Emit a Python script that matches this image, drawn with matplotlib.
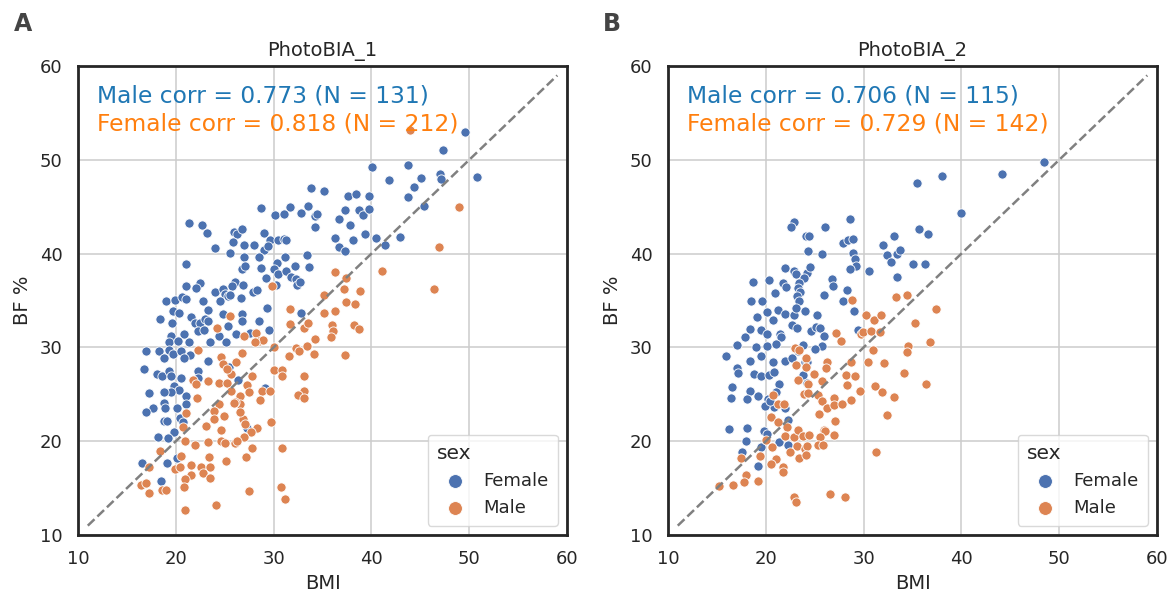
import numpy as np
import matplotlib
matplotlib.use("Agg")
import matplotlib.pyplot as plt
import seaborn as sns

# PhotoBIA_1 : (BMI, BF %)
p1_female = [
    (33.8, 47.0), (28.7, 44.9), (31.7, 45.0), (30.1, 44.1), (31.1, 44.2), (32.8, 44.3),
    (33.5, 45.1), (34.2, 44.0), (34.4, 44.2), (34.2, 42.8), (21.3, 43.3), (22.7, 43.1),
    (23.2, 42.2), (24.0, 40.6), (25.9, 42.3), (26.3, 42.1), (26.8, 42.6), (25.8, 41.2),
    (27.0, 40.9), (28.0, 40.9), (29.0, 42.2), (29.6, 41.5), (30.4, 41.5), (31.1, 41.6),
    (31.3, 41.5), (29.0, 40.4), (29.4, 40.8), (25.5, 40.1), (27.0, 39.6), (28.5, 39.6),
    (33.4, 39.9), (33.6, 38.6), (31.2, 39.6), (30.3, 39.0), (21.0, 38.9), (26.8, 38.4),
    (27.1, 38.7), (28.7, 38.5), (30.0, 38.4), (30.4, 37.8), (31.3, 38.2), (32.2, 38.7),
    (29.2, 37.4), (31.8, 37.5), (32.3, 37.3), (32.4, 36.7), (32.7, 37.0), (30.2, 36.7),
    (21.0, 36.6), (22.5, 36.9), (22.1, 36.3), (26.1, 37.0), (25.7, 36.5), (26.9, 36.7),
    (24.0, 35.9), (24.8, 36.2), (25.0, 35.7), (25.3, 35.5), (25.5, 35.6), (27.9, 35.9),
    (28.3, 36.1), (19.0, 35.0), (19.9, 35.1), (20.6, 35.4), (21.0, 35.2), (22.8, 34.9),
    (24.5, 34.9), (26.7, 35.3), (29.3, 34.2), (32.8, 33.7), (19.7, 33.9), (20.3, 33.7),
    (23.3, 34.0), (24.8, 33.6), (26.8, 33.6), (18.4, 33.0), (19.6, 32.6), (21.6, 33.2),
    (22.0, 32.6), (22.5, 32.6), (23.0, 33.0), (23.3, 32.8), (25.3, 32.3), (26.8, 32.8),
    (28.5, 32.8), (29.5, 31.9), (22.3, 31.7), (22.9, 31.9), (24.4, 31.2), (26.2, 31.4),
    (27.6, 31.5), (19.5, 31.2), (20.8, 31.4), (19.3, 30.6), (20.2, 30.7), (21.3, 30.6),
    (23.5, 30.6), (25.1, 30.6),
    (16.9, 29.6), (18.3, 29.6), (19.3, 29.7), (19.7, 29.3), (20.5, 29.6), (21.4, 29.2),
    (20.8, 28.9), (18.8, 28.9), (23.3, 28.6), (25.4, 27.9), (26.4, 26.5), (16.7, 27.7),
    (18.1, 27.2), (18.6, 27.0), (19.3, 27.5), (19.5, 27.0), (20.5, 26.7), (19.8, 25.9),
    (20.3, 25.5), (19.5, 25.3), (18.8, 25.2), (17.3, 25.1), (21.0, 24.8), (21.0, 24.0),
    (20.1, 23.5), (18.8, 24.1), (18.9, 23.5), (17.7, 23.5), (17.0, 23.1), (18.8, 22.2),
    (19.1, 22.2), (20.4, 22.5), (20.7, 22.1), (19.8, 21.0), (18.2, 20.5), (19.2, 20.3),
    (16.5, 17.7), (19.1, 17.7), (20.1, 18.2), (18.5, 15.8), (27.3, 21.4), (29.1, 25.7),
    (22.3, 27.5), (22.3, 26.7),
    (49.6, 53.0), (47.3, 51.0), (40.1, 49.2), (43.7, 49.5), (41.8, 47.9), (45.1, 48.1),
    (44.4, 47.1), (43.7, 46.0), (47.0, 48.5), (47.1, 48.0), (50.8, 48.2), (45.4, 45.1),
    (35.2, 46.7), (37.6, 46.1), (38.4, 46.4), (39.7, 46.1), (37.3, 44.7), (38.7, 44.7),
    (39.1, 44.1), (39.7, 44.8), (36.7, 43.7), (37.8, 43.0), (36.3, 41.7), (36.7, 40.7),
    (37.3, 40.3), (38.1, 41.4), (39.3, 42.1), (40.5, 41.7), (41.4, 40.9), (42.9, 41.8),
]
p1_male = [
    (29.8, 36.6), (25.5, 33.3), (24.2, 32.1), (27.0, 31.2), (28.2, 31.5), (28.5, 30.7),
    (28.9, 30.8), (28.1, 30.6), (31.7, 34.1), (31.7, 32.5), (33.1, 32.1), (33.5, 32.6),
    (22.3, 29.7), (24.6, 29.0), (26.8, 29.4), (30.0, 30.0), (32.3, 29.9), (33.4, 30.1),
    (34.1, 29.3), (31.6, 29.1), (32.6, 29.6), (24.8, 28.2), (25.6, 27.2), (26.2, 28.4),
    (25.2, 27.7), (27.8, 26.9), (30.0, 27.6), (30.9, 27.6), (30.9, 27.0), (33.1, 26.9),
    (21.8, 26.5), (23.3, 26.4), (24.4, 26.2), (25.2, 26.2), (27.3, 26.0), (22.1, 26.1),
    (25.6, 25.4), (26.6, 24.8), (26.6, 24.0), (26.1, 24.2), (25.9, 24.1), (27.5, 25.3),
    (28.8, 25.4), (29.6, 25.4), (28.6, 24.4), (33.1, 25.4), (32.5, 24.9), (33.1, 24.6),
    (22.2, 24.6), (24.4, 24.0), (23.9, 23.2), (23.9, 22.4), (24.9, 22.7), (26.9, 22.4),
    (27.1, 21.8), (26.6, 23.1), (21.0, 23.0), (20.7, 21.5), (23.1, 21.6), (24.6, 21.2),
    (28.3, 21.4), (29.7, 22.0), (27.7, 21.0), (27.0, 20.5), (20.9, 20.0), (22.0, 19.6),
    (23.3, 19.9), (24.6, 20.0), (25.0, 19.8), (26.1, 19.8), (26.3, 20.0), (18.4, 19.0),
    (27.8, 19.3), (30.9, 19.3), (20.5, 18.4), (23.4, 18.3), (25.1, 17.9), (27.2, 18.3),
    (17.3, 17.3), (19.9, 17.0), (20.4, 17.3), (21.6, 17.5), (22.6, 17.3), (23.5, 17.3),
    (22.8, 16.6), (21.6, 16.4), (20.9, 16.0), (23.5, 16.1), (16.4, 15.3), (16.9, 15.5),
    (17.3, 14.5), (18.6, 14.8), (19.0, 14.8), (20.8, 15.1), (27.5, 14.7), (30.8, 15.1),
    (31.2, 13.8), (24.1, 13.2), (20.9, 12.7),
    (43.9, 53.2), (49.0, 45.0), (46.9, 40.7), (41.1, 38.1), (46.4, 36.2), (36.3, 38.0),
    (37.4, 37.4), (37.2, 36.2), (38.8, 36.0), (35.2, 35.6), (37.4, 34.8), (38.3, 34.6),
    (35.2, 33.7), (36.3, 33.9), (36.0, 32.4), (36.1, 31.8), (35.9, 31.1), (38.2, 32.4),
    (38.7, 32.0), (34.2, 30.9), (37.3, 29.2),
]

# PhotoBIA_2 : (BMI, BF %)
p2_female = [
    (28.6, 43.7), (22.9, 43.4), (22.6, 42.8), (26.1, 42.8), (24.1, 41.9), (24.4, 41.9),
    (27.9, 41.1), (28.4, 41.4), (28.9, 41.6), (33.1, 41.9), (32.0, 40.9), (32.4, 39.9),
    (32.8, 39.1), (33.4, 40.0), (33.7, 40.4), (24.3, 40.3), (25.7, 40.0), (28.9, 40.1),
    (29.1, 39.4), (29.2, 38.7), (28.6, 38.4), (30.6, 38.2), (33.4, 37.5), (22.0, 38.5),
    (22.9, 38.1), (23.1, 37.8), (24.2, 37.9), (24.5, 38.6), (23.9, 37.4), (18.7, 37.0),
    (20.3, 37.2), (21.8, 36.9), (22.1, 36.4), (23.4, 36.9), (23.3, 36.3), (23.5, 35.9),
    (23.2, 35.5), (23.4, 34.9), (26.8, 37.3), (26.9, 36.6), (28.3, 36.1), (25.9, 35.6),
    (27.9, 35.0), (20.9, 35.8), (18.5, 34.9), (19.6, 34.9), (21.2, 34.0), (20.1, 33.8),
    (22.0, 33.6), (22.9, 33.5), (23.1, 34.2), (24.0, 33.9), (29.0, 33.9), (19.1, 33.2),
    (20.7, 32.9), (22.7, 32.4), (23.2, 32.1), (25.2, 33.5), (18.4, 32.0), (19.5, 31.9),
    (20.1, 31.4), (21.5, 31.4), (21.6, 31.1), (17.9, 31.1), (17.1, 30.3), (19.0, 30.0),
    (20.1, 30.1), (21.0, 30.4), (24.6, 31.7), (25.1, 32.2), (25.5, 32.1), (25.9, 31.2),
    (25.7, 30.2), (29.4, 31.9), (23.8, 30.3), (25.0, 29.8), (15.9, 29.1), (18.4, 28.6),
    (19.5, 29.1), (20.7, 28.4), (22.0, 28.5), (22.7, 28.9), (17.1, 27.8), (17.2, 27.3),
    (18.8, 27.2), (19.5, 27.0), (20.3, 27.1), (20.8, 27.4), (23.3, 29.6), (24.0, 28.4),
    (24.2, 28.4), (23.8, 27.1), (24.2, 26.2), (16.5, 25.8), (18.4, 25.4), (21.4, 26.1),
    (21.0, 25.3), (16.4, 24.6), (18.1, 24.5), (19.2, 24.8), (20.2, 24.5),
    (16.2, 21.3), (18.1, 21.4), (19.8, 21.1), (20.1, 20.8), (18.0, 20.0), (21.3, 19.9),
    (22.3, 19.6), (19.5, 19.4), (17.6, 18.9), (19.2, 17.4), (22.0, 23.5), (20.8, 23.6),
    (22.3, 22.3), (19.9, 23.8), (20.4, 24.3),
    (48.4, 49.8), (44.2, 48.5), (38.0, 48.3), (35.5, 47.5), (40.0, 44.3), (35.7, 42.6),
    (36.6, 42.1), (35.1, 38.9), (36.3, 38.9),
]
p2_male = [
    (28.8, 35.1), (33.3, 35.4), (34.4, 35.6), (30.2, 33.5), (31.1, 32.9), (31.8, 33.5),
    (29.7, 31.4), (29.9, 31.6), (30.8, 31.8), (31.7, 31.6), (27.2, 31.5), (27.7, 30.7),
    (23.0, 29.9), (23.4, 29.7), (24.1, 28.9), (23.1, 28.1), (24.1, 27.9), (26.3, 28.4),
    (26.2, 27.8), (28.7, 28.4), (30.4, 28.4), (32.1, 28.3), (31.0, 29.7), (34.5, 30.1),
    (24.9, 27.2), (28.2, 27.1), (29.1, 27.0), (34.1, 27.3), (23.3, 26.5), (24.3, 26.1),
    (25.7, 26.4), (28.3, 26.0), (31.2, 25.9), (29.6, 25.4), (31.9, 25.3), (33.1, 24.7),
    (23.9, 25.0), (24.3, 25.1), (20.7, 24.9), (27.0, 24.6),
    (21.2, 24.0), (21.9, 24.0), (25.3, 24.9), (25.7, 24.3), (25.4, 22.9), (26.3, 23.5),
    (27.0, 23.9), (27.8, 24.0), (28.7, 24.4), (32.4, 22.8), (27.1, 22.2), (26.0, 21.2),
    (26.1, 21.1), (27.0, 20.7), (20.5, 22.6), (21.2, 22.0), (22.2, 21.5), (22.0, 20.6),
    (22.9, 20.4), (23.3, 21.2), (23.8, 20.6), (24.4, 20.7), (25.5, 20.5), (20.0, 20.1),
    (23.2, 19.5), (24.0, 19.2), (24.2, 19.5), (25.3, 19.6), (25.8, 19.6), (20.6, 19.4),
    (22.5, 18.9), (23.4, 18.2), (24.1, 18.5), (17.5, 18.2), (19.4, 18.4), (21.0, 18.1),
    (20.5, 17.6), (21.8, 17.2), (21.8, 16.7), (31.3, 18.9), (18.0, 16.4), (19.2, 15.8),
    (17.8, 15.6), (16.6, 15.3), (15.2, 15.2), (22.9, 14.1), (23.1, 13.5), (26.6, 14.4),
    (28.1, 14.1),
    (37.4, 34.1), (35.3, 32.6), (36.8, 30.6), (34.4, 29.5), (36.4, 26.1),
]

titles = ["PhotoBIA_1", "PhotoBIA_2"]
panel_letters = ["A", "B"]
male_stats = [("0.773", 131), ("0.706", 115)]
female_stats = [("0.818", 212), ("0.729", 142)]
ticks = [10, 20, 30, 40, 50, 60]
diag = [11, 59]

sns.set_theme(style="whitegrid")
plt.rcParams['font.family'] = ['DejaVu Sans']

blue = "#4C72B0"
orange = "#DD8452"

fig = plt.figure(figsize=(11.75, 5.99), dpi=100)
lefts = [0.0664, 0.5685]
panels = [(p1_female, p1_male), (p2_female, p2_male)]

for i in range(2):
    ax = fig.add_axes([lefts[i], 0.1068, 0.4162, 0.783])
    fem = np.array(panels[i][0])
    mal = np.array(panels[i][1])
    ax.scatter(fem[:, 0], fem[:, 1], s=44, color=blue, edgecolor="white", linewidth=0.6, label="Female", zorder=3)
    ax.scatter(mal[:, 0], mal[:, 1], s=44, color=orange, edgecolor="white", linewidth=0.6, label="Male", zorder=3)
    ax.plot(diag, diag, ls="--", color="gray", lw=1.8, zorder=4)
    ax.set_xlim(10, 60)
    ax.set_ylim(10, 60)
    ax.set_xticks(ticks)
    ax.set_yticks(ticks)
    ax.tick_params(labelsize=13, colors="#262626", pad=5)
    ax.set_xlabel("BMI", fontsize=14, labelpad=4)
    ax.set_ylabel("BF %", fontsize=14, labelpad=6)
    ax.set_title(titles[i], fontsize=14, pad=7)
    for sp in ax.spines.values():
        sp.set_color("#262626")
        sp.set_linewidth(2)
    ax.grid(True, color="#cccccc", lw=1.1)
    ax.text(0.039, 0.935, "Male corr = %s (N = %d)" % male_stats[i], transform=ax.transAxes,
            color="#1f77b4", fontsize=16.8, va="center", ha="left")
    ax.text(0.039, 0.876, "Female corr = %s (N = %d)" % female_stats[i], transform=ax.transAxes,
            color="#ff7f0e", fontsize=16.8, va="center", ha="left")
    leg = ax.legend(title="sex", loc="lower right", fontsize=13, title_fontsize=14.5,
                    markerscale=1.5, frameon=True, borderpad=0.5, handletextpad=0.6)
    leg.get_frame().set_edgecolor("#d0d0d0")
    leg._legend_box.align = "left"
    fig.text(lefts[i] - 0.055, 0.96, panel_letters[i], fontsize=17, fontweight="bold",
             color="#444444", ha="left", va="center")

plt.savefig("out.png", dpi=100)
